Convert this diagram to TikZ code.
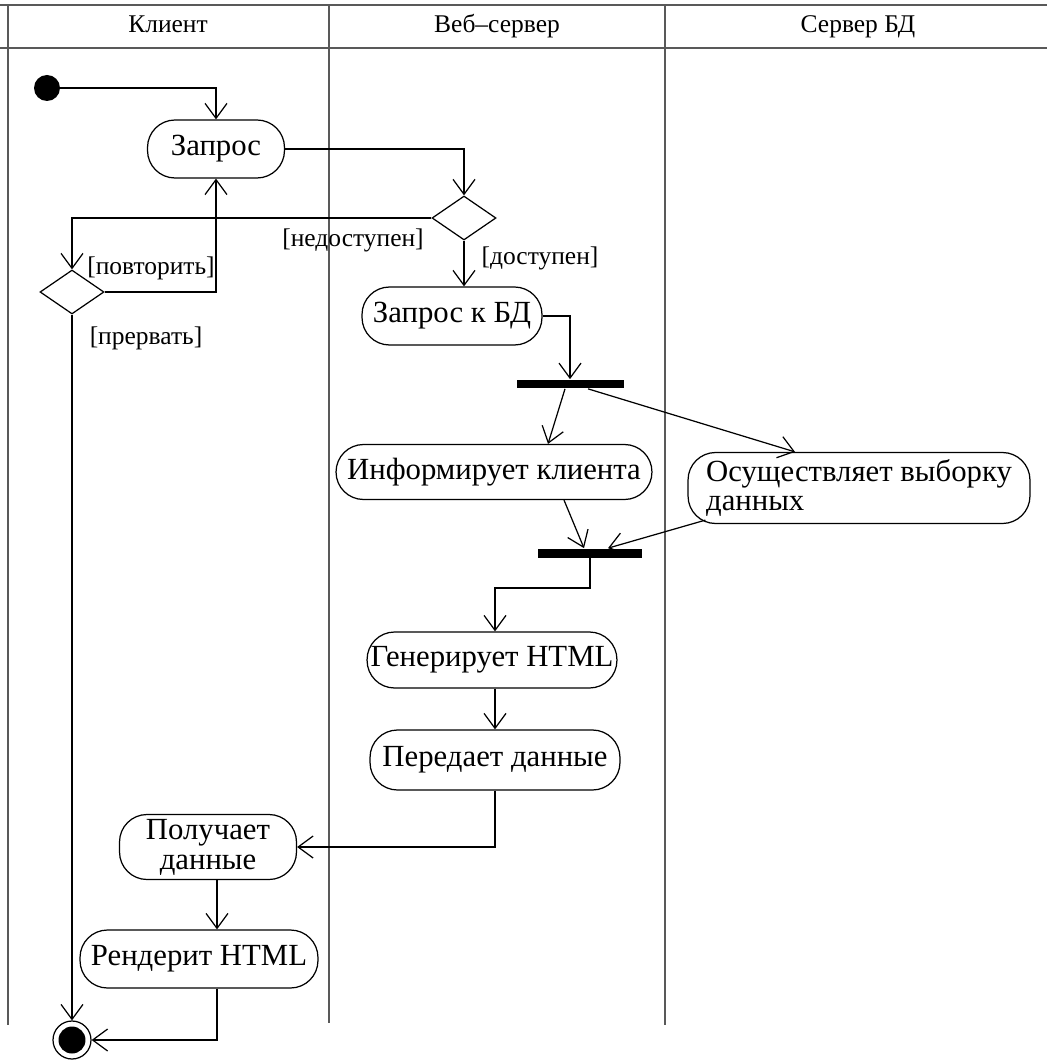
\documentclass[tikz,border=0pt]{standalone}
\usepackage{fontspec}
\setmainfont{Liberation Serif}
\usetikzlibrary{arrows.meta,positioning,shapes.geometric,calc}

\begin{document}
\begin{tikzpicture}[
    x=0.02cm, y=-0.02cm,
    lane/.style={black!65, line width=1pt},
    title/.style={font=\fontsize{14.5}{16}\selectfont, anchor=base},
    action/.style={draw, rectangle, rounded corners=5.5mm, line width=0.7pt, inner sep=2pt, font=\fontsize{17.5}{19}\selectfont},
    decision/.style={draw, diamond, minimum width=12.8mm, minimum height=8.8mm, inner sep=0pt, line width=0.7pt},
    bar/.style={fill=black, minimum height=1.8mm, inner sep=0pt},
    startstate/.style={circle, fill=black, minimum size=5.2mm, inner sep=0pt},
    endstate/.style={circle, draw, line width=0.7pt, minimum size=7.6mm, inner sep=0pt,
        path picture={\fill (path picture bounding box.center) circle (2.7mm);}},
    arrow/.style={-{Straight Barb[length=3mm, width=4.4mm]}, line width=0.7pt},
    guard/.style={font=\fontsize{14.5}{16}\selectfont, inner sep=1pt}
]
\useasboundingbox (0,0) rectangle (1047,1060);

% Swimlanes
\draw[lane] (0,5) -- (1047,5);
\draw[lane] (0,48) -- (1047,48);
\draw[lane] (8,5) -- (8,1025);
\draw[lane] (329,5) -- (329,1023);
\draw[lane] (665,5) -- (665,1025);
\node[title] (hclient) at (168,33) {Клиент};
\node[title] (hweb) at (497,33) {Веб–сервер};
\node[title] (hdb) at (858,33) {Сервер БД};

% Client lane
\node[startstate] (start) at (47,88) {};
\node[action, minimum width=27.4mm, minimum height=11.6mm] (zapros) at (216,149) {Запрос};
\node[decision] (dec2) at (72,292) {};
\node[action, minimum width=35.4mm, minimum height=13mm, align=center] (poluchaet) at (208,847) {Получает\\[-2pt]данные};
\node[action, minimum width=47.6mm, minimum height=11.6mm] (render) at (199,959) {Рендерит HTML};
\node[endstate] (finish) at (72,1040) {};

% Web server lane
\node[decision] (dec1) at (464,218) {};
\node[action, minimum width=36mm, minimum height=11.6mm] (zaprosbd) at (452,316) {Запрос к БД};
\node[bar, minimum width=21.4mm] (fork1) at (570,384) {};
\node[action, minimum width=63.2mm, minimum height=11mm] (inform) at (494,472) {Информирует клиента};
\node[bar, minimum width=20.8mm] (fork2) at (590,553) {};
\node[action, minimum width=48.8mm, minimum height=11.2mm] (generate) at (492,660) {Генерирует HTML};
\node[action, minimum width=50mm, minimum height=12mm] (peredaet) at (495,760) {Передает данные};

% DB server lane
\node[action, minimum width=68.4mm, minimum height=14.2mm, align=left] (vyborka) at (859,488) {Осуществляет выборку\\[-2pt]данных};

% Guards
\node[guard] (lnedost) at (353,240) {[недоступен]};
\node[guard] (ldost) at (540,258) {[доступен]};
\node[guard] (lpovt) at (151,268) {[повторить]};
\node[guard] (lprerv) at (146,338) {[прервать]};

% Bends
\coordinate (webcol) at (495,588);
\coordinate (clientcol) at (217,0);

% Flows
\draw[arrow] (start) -| (zapros);
\draw[arrow] (zapros.east) -| (dec1);
\draw[arrow] (dec1.west) -| (dec2);
\draw[arrow] (dec2.east) -| (zapros);
\draw[arrow] (dec2) -- (finish);
\draw[arrow] (dec1) -- (dec1 |- zaprosbd.north);
\draw[arrow] (zaprosbd.east) -| (fork1);
\draw[arrow] ($(fork1.south)+(-5,0)$) -- ($(inform.north)+(54,0)$);
\draw[arrow] ($(fork1.south)+(18,0)$) -- ($(vyborka.north)+(-64,0)$);
\draw[arrow] ($(inform.south)+(70,0)$) -- ($(fork2.north)+(-6,0)$);
\draw[arrow] ($(vyborka.south west)+(18,-4)$) -- ($(fork2.north)+(18,0)$);
\draw[arrow] (fork2.south) |- (webcol) -- (webcol |- generate.north);
\draw[arrow] (webcol |- generate.south) -- (webcol |- peredaet.north);
\draw[arrow] (peredaet.south) |- (poluchaet.east);
\draw[arrow] (clientcol |- poluchaet.south) -- (clientcol |- render.north);
\draw[arrow] (clientcol |- render.south) |- (finish.east);
\end{tikzpicture}
\end{document}
